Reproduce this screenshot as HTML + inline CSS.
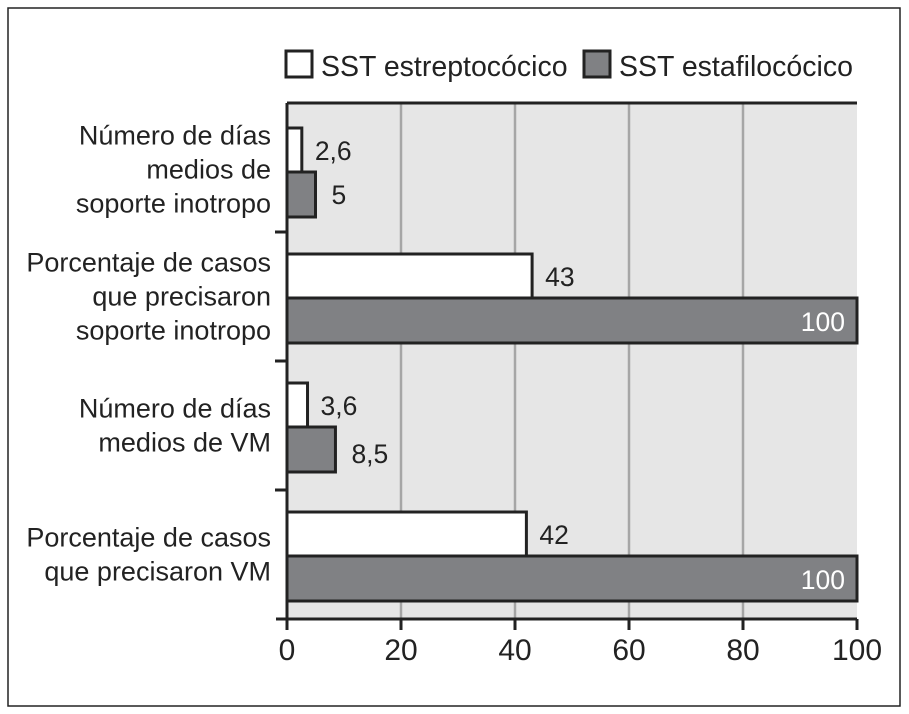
<!DOCTYPE html>
<html><head><meta charset="utf-8"><style>
body{margin:0;background:#fff;}
svg{display:block;font-family:"Liberation Sans",sans-serif;}
</style></head><body>
<svg id="chart" width="909" height="714">
<rect x="8" y="8" width="892" height="698" fill="none" stroke="#222" stroke-width="1.5"/>
<g>
<rect x="286" y="51" width="26" height="26" fill="#fff" stroke="#222" stroke-width="3"/>
<text x="321" y="76" font-size="28.5" fill="#222">SST estreptocócico</text>
<rect x="584" y="51" width="26" height="26" fill="#808184" stroke="#222" stroke-width="3"/>
<text x="619" y="76" font-size="28.5" fill="#222">SST estafilocócico</text>
</g>
<g id="plot"></g>
</svg>
<script>
const categories=[["Número de días","medios de","soporte  inotropo"],["Porcentaje de casos","que precisaron","soporte inotropo"],["Número de días","medios de VM"],["Porcentaje de casos","que precisaron VM"]];
const strepValues=[2.6,43,3.6,42];
const staphValues=[5,100,8.5,100];
const strepLabels=["2,6","43","3,6","42"];
const staphLabels=["5","100","8,5","100"];
const xTicks=[0,20,40,60,80,100];

const NS="http://www.w3.org/2000/svg";
const g=document.getElementById('plot');
const X0=287,X1=857,Y0=103,Y1=619;
const xs=v=>X0+(v/100)*(X1-X0);
const band=(Y1-Y0)/categories.length;
function mk(t,a){const e=document.createElementNS(NS,t);for(const k in a)e.setAttribute(k,a[k]);g.appendChild(e);return e;}
let e=mk('rect',{x:X0,y:Y0,width:X1-X0,height:Y1-Y0,fill:'#e6e6e6'});


xTicks.forEach((t,i)=>{
 if(t>0&&t<100){const l=mk('line',{x1:xs(t),x2:xs(t),y1:Y0,y2:Y1,stroke:'#a6a6a6','stroke-width':2.5});
 
 }
 const tk=mk('line',{x1:xs(t),x2:xs(t),y1:Y1,y2:Y1+11,stroke:'#222','stroke-width':3});
 
 
 const tx=mk('text',{x:xs(t),y:Y1+41,'font-size':30,fill:'#222','text-anchor':'middle'});tx.textContent=t;
 
 
});
categories.forEach((c,i)=>{
 const top=Y0+i*band;
 const wy=top+(i==0?25:22),h=44;
 const r1=mk('rect',{x:X0,y:wy,width:xs(strepValues[i])-X0,height:h,fill:'#fff',stroke:'#222','stroke-width':3});
 
 
 const r2=mk('rect',{x:X0,y:wy+h,width:xs(staphValues[i])-X0,height:h+1,fill:'#808184',stroke:'#222','stroke-width':3});
 
 
 const l1=mk('text',{x:xs(strepValues[i])+13,y:wy+32,'font-size':26.5,fill:'#222'});l1.textContent=strepLabels[i];
 
 
 let l2;
 if(staphValues[i]>=90){l2=mk('text',{x:xs(staphValues[i])-12,y:wy+h+33,'font-size':26.5,fill:'#fff','text-anchor':'end'});}
 else{l2=mk('text',{x:xs(staphValues[i])+16,y:wy+h+(i==2?36:32),'font-size':26.5,fill:'#222'});}
 l2.textContent=staphLabels[i];
 
 
 const mid=top+band/2+(i==0?2:0);
 const lh=34, st=mid-(c.length-1)*lh/2+9;
 c.forEach((line,j)=>{const t=mk('text',{x:271,y:st+j*lh,'font-size':27,fill:'#222','text-anchor':'end'});t.textContent=line;
  
  });
 if(i>0){const tk=mk('line',{x1:275,x2:X0,y1:top,y2:top,stroke:'#222','stroke-width':3});
 
 }
});
e=mk('line',{x1:X0,x2:X1,y1:Y0,y2:Y0,stroke:'#222','stroke-width':3});


e=mk('line',{x1:X0,x2:X0,y1:Y0,y2:Y1+11,stroke:'#222','stroke-width':3});


e=mk('line',{x1:276,x2:X1,y1:Y1,y2:Y1,stroke:'#222','stroke-width':3});


</script>
</body></html>
